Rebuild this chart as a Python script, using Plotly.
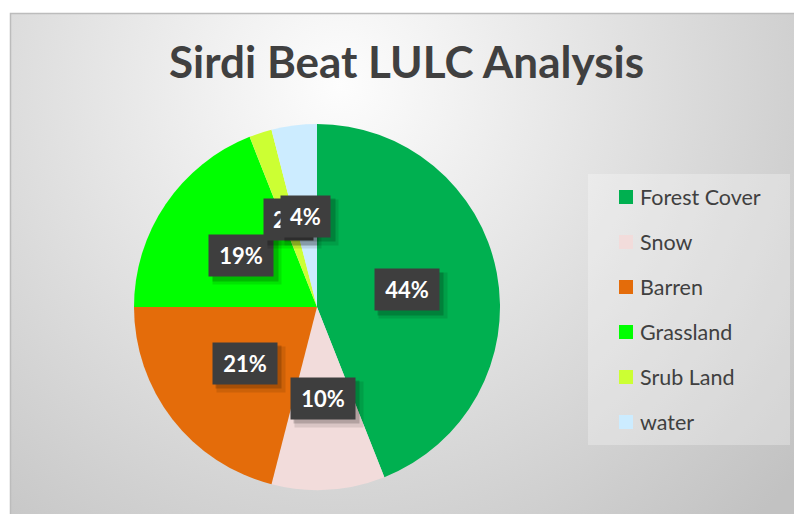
import base64
import math
import plotly.graph_objects as go

# Land use / land cover shares for Sirdi Beat (percent)
categories = ["Forest Cover", "Snow", "Barren", "Grassland", "Srub Land", "water"]
shares = [44, 10, 21, 19, 2, 4]
colors = ["#00b050", "#f2dcdb", "#e46c0a", "#00ff00", "#ccff33", "#ccecff"]
title_text = "Sirdi Beat LULC Analysis"

W, H = 794, 514


def px_x(x):
    return x / W


def px_y(y):
    return 1 - y / H


# pie placement in pixels
cx, cy, r = 317, 307, 183
pie_domain_x = [px_x(cx - r), px_x(cx + r)]
pie_domain_y = [px_y(cy + r), px_y(cy - r)]

# radial grey chart-area background as an inline svg
bg_svg = (
    "<svg xmlns='http://www.w3.org/2000/svg' width='794' height='514'>"
    "<defs><radialGradient id='g' gradientUnits='userSpaceOnUse' cx='340' cy='85' r='600'>"
    "<stop offset='0' stop-color='#fdfdfd'/>"
    "<stop offset='0.12' stop-color='#f6f6f6'/>"
    "<stop offset='1' stop-color='#c2c2c2'/>"
    "</radialGradient></defs>"
    "<rect x='10.5' y='13.5' width='800' height='520' fill='url(#g)' "
    "stroke='#bcbcbc' stroke-width='1.5'/>"
    "</svg>"
)
bg_uri = "data:image/svg+xml;base64," + base64.b64encode(bg_svg.encode()).decode()

fig = go.Figure(
    go.Pie(
        labels=categories,
        values=shares,
        marker=dict(colors=colors, line=dict(width=0)),
        sort=False,
        direction="clockwise",
        rotation=0,
        textinfo="none",
        hoverinfo="label+percent",
        showlegend=False,
        domain=dict(x=pie_domain_x, y=pie_domain_y),
    )
)

annotations = []
shapes = []

# percentage call-outs placed at half the radius along each slice's mid-angle
total = sum(shares)
cum = 0
label_font = dict(family="Lato", size=22, color="white")
for v in shares:
    mid = (cum + v / 2) / total * 2 * math.pi
    cum += v
    lx = cx + 0.5 * r * math.sin(mid)
    ly = cy - 0.5 * r * math.cos(mid)
    pct = f"{round(v / total * 100)}%"
    bw = 15 * len(pct) + 19
    bh = 41
    for off, alpha, grow in [(6, 0.10, 4), (4, 0.18, 1)]:
        annotations.append(dict(
            x=px_x(lx + off), y=px_y(ly + off), xref="paper", yref="paper",
            xanchor="center", yanchor="middle",
            text="", showarrow=False, width=bw + grow, height=bh + grow,
            bgcolor=f"rgba(0,0,0,{alpha})", borderpad=0,
        ))
    annotations.append(dict(
        x=px_x(lx), y=px_y(ly), xref="paper", yref="paper",
        xanchor="center", yanchor="middle",
        text=f"<b>{pct}</b>", showarrow=False, width=bw, height=bh,
        bgcolor="#3e3e3e", borderpad=0, font=label_font,
    ))

# legend panel
shapes.append(dict(
    type="rect", xref="paper", yref="paper", layer="below",
    x0=px_x(588), x1=px_x(790), y0=px_y(445), y1=px_y(174),
    fillcolor="rgba(255,255,255,0.28)", line=dict(width=0),
))
for i, (name, col) in enumerate(zip(categories, colors)):
    yc = 197 + 45 * i
    shapes.append(dict(
        type="rect", xref="paper", yref="paper",
        x0=px_x(619), x1=px_x(633), y0=px_y(yc + 7), y1=px_y(yc - 7),
        fillcolor=col, line=dict(width=0),
    ))
    annotations.append(dict(
        x=px_x(638), y=px_y(yc), xref="paper", yref="paper",
        text=name, showarrow=False, xanchor="left", yanchor="middle",
        font=dict(family="Lato", size=21.5, color="#404040"),
    ))

# chart title
annotations.append(dict(
    x=px_x(407), y=px_y(61), xref="paper", yref="paper",
    text=f"<b>{title_text}</b>", showarrow=False,
    xanchor="center", yanchor="middle",
    font=dict(family="Lato", size=44, color="#404040"),
))

fig.update_layout(
    width=W, height=H,
    margin=dict(l=0, r=0, t=0, b=0),
    paper_bgcolor="white",
    plot_bgcolor="white",
    images=[dict(
        source=bg_uri, xref="paper", yref="paper", x=0, y=1,
        sizex=1, sizey=1, xanchor="left", yanchor="top",
        sizing="stretch", layer="below",
    )],
    shapes=shapes,
    annotations=annotations,
)

fig.write_html("out.html")
